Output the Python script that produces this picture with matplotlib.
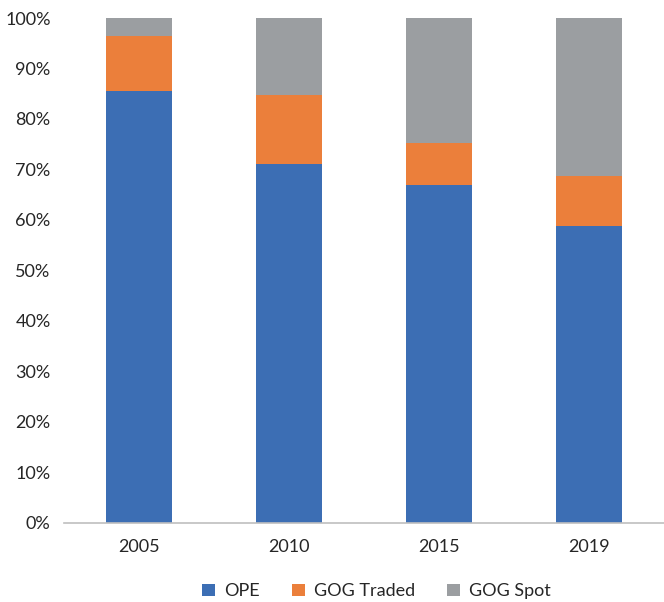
import numpy as np
import matplotlib.pyplot as plt
from matplotlib.ticker import PercentFormatter

plt.rcParams['font.family'] = ['Lato', 'DejaVu Sans']

years = ['2005', '2010', '2015', '2019']
ope = [85.6, 71.1, 66.9, 58.8]
gog_traded = [10.9, 13.7, 8.3, 9.9]
gog_spot = [3.5, 15.2, 24.8, 31.3]

blue = '#3C6EB4'
orange = '#EB7F3B'
grey = '#9B9EA1'
mTickSize = 13

fig = plt.figure(figsize=(6.64, 6.02), dpi=100)
ax = fig.add_axes([0.097, 0.132, 0.903, 0.838])

x = np.arange(len(years))
width = 0.44
bottom2 = np.array(ope) + np.array(gog_traded)
ax.bar(x, ope, width, color=blue, label='OPE')
ax.bar(x, gog_traded, width, bottom=ope, color=orange, label='GOG Traded')
ax.bar(x, gog_spot, width, bottom=bottom2, color=grey, label='GOG Spot')

ax.set_xlim(-0.5, 3.5)
ax.set_ylim(0, 100)
ax.set_yticks(np.arange(0, 101, 10))
ax.yaxis.set_major_formatter(PercentFormatter(decimals=0))
ax.set_xticks(x)
ax.set_xticklabels(years)
ax.tick_params(axis='both', length=0, labelsize=mTickSize, colors='#262626')
ax.tick_params(axis='x', pad=12)
ax.tick_params(axis='y', pad=10)

for side in ['top', 'right', 'left']:
    ax.spines[side].set_visible(False)
ax.spines['bottom'].set_color('#BFBFBF')
ax.spines['bottom'].set_linewidth(1.2)

fig.legend(loc='center', bbox_to_anchor=(0.567, 0.018), ncol=3, frameon=False,
           fontsize=mTickSize, handlelength=0.7, handleheight=0.7, handletextpad=0.5,
           columnspacing=1.8, labelcolor='#262626')

plt.savefig('out.png', dpi=100)
